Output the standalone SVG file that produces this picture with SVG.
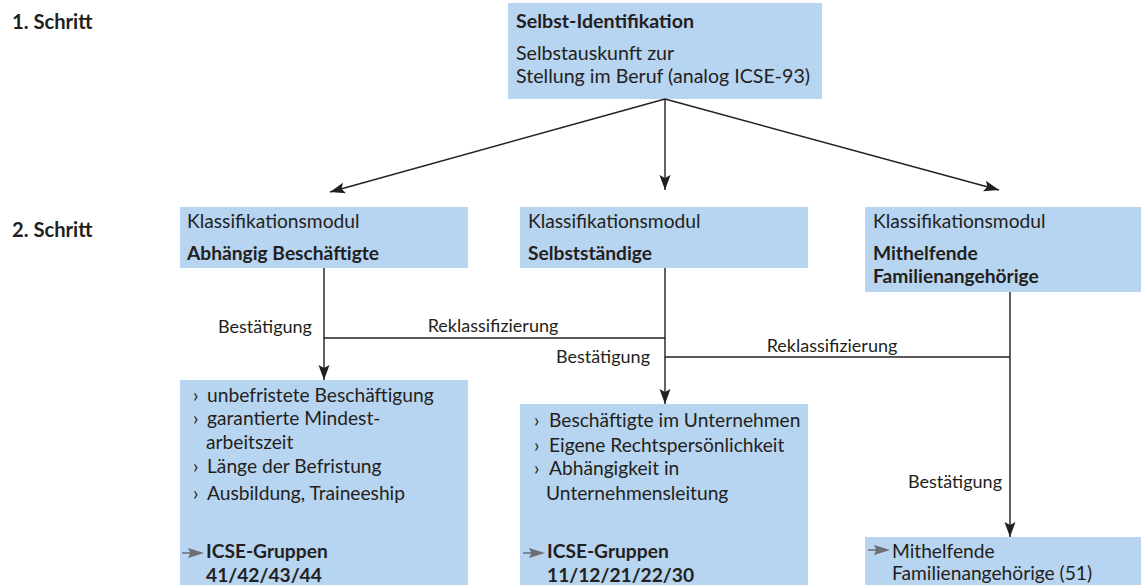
<svg xmlns="http://www.w3.org/2000/svg" width="1141" height="585" viewBox="0 0 1141 585">
<style>
text{font-family:Lato,"Liberation Sans",sans-serif;font-size:19.2px;fill:#231f20}
.b{font-weight:bold}
.t{font-size:19.6px}
.s{font-size:20.2px}
.c{font-size:18px}
.box{fill:#b7d4f0}
.ln{stroke:#231f20;stroke-width:1.4;fill:none}
.gm{fill:#6d6e71}
</style>
<defs>
<marker id="ah" markerUnits="userSpaceOnUse" markerWidth="16" markerHeight="12" refX="15" refY="6" orient="auto">
<path d="M0,0.5 L15,6 L0,11.5 L3,6 z" fill="#231f20"/>
</marker>
<path id="gm" d="M0,-0.8 L8,-0.8 L6,-5 L22,0 L6,5 L8,0.8 L0,0.8 z"/>
</defs>
<g id="labels">
<text x="12" y="29" class="b s">1. Schritt</text>
<text x="12" y="237" class="b s">2. Schritt</text>
</g>
<g id="n0">
<rect class="box" x="508" y="3" width="314" height="96"/>
<text x="516" y="28" class="b t">Selbst-Identifikation</text>
<text x="516" y="60" class="t">Selbstauskunft zur</text>
<text x="516" y="83" class="t">Stellung im Beruf (analog ICSE-93)</text>
</g>
<g id="n1">
<rect class="box" x="180" y="207" width="288" height="61"/>
<text x="187" y="228">Klassifikationsmodul</text>
<text x="187" y="260" class="b">Abhängig Beschäftigte</text>
</g>
<g id="n2">
<rect class="box" x="520" y="207" width="288" height="61"/>
<text x="528" y="228">Klassifikationsmodul</text>
<text x="528" y="260" class="b">Selbstständige</text>
</g>
<g id="n3">
<rect class="box" x="865" y="207" width="276" height="85"/>
<text x="873" y="228">Klassifikationsmodul</text>
<text x="873" y="260" class="b">Mithelfende</text>
<text x="873" y="283" class="b">Familienangehörige</text>
</g>
<g id="n4">
<rect class="box" x="180" y="380" width="288" height="205"/>
<text x="193" y="402">›</text><text x="207" y="402">unbefristete Beschäftigung</text>
<text x="193" y="425">›</text><text x="207" y="425">garantierte Mindest-</text>
<text x="206" y="449">arbeitszeit</text>
<text x="193" y="473">›</text><text x="207" y="473">Länge der Befristung</text>
<text x="193" y="500">›</text><text x="207" y="500">Ausbildung, Traineeship</text>
<use href="#gm" class="gm" x="182" y="553"/>
<text x="206" y="558" class="b">ICSE-Gruppen</text>
<text x="206" y="582" class="b">41/42/43/44</text>
</g>
<g id="n5">
<rect class="box" x="520" y="404" width="288" height="181"/>
<text x="534" y="427">›</text><text x="549" y="427">Beschäftigte im Unternehmen</text>
<text x="534" y="452">›</text><text x="549" y="452">Eigene Rechtspersönlichkeit</text>
<text x="534" y="475">›</text><text x="549" y="475">Abhängigkeit in</text>
<text x="546" y="500">Unternehmensleitung</text>
<use href="#gm" class="gm" x="523" y="553"/>
<text x="547" y="558" class="b">ICSE-Gruppen</text>
<text x="547" y="582" class="b">11/12/21/22/30</text>
</g>
<g id="n6">
<rect class="box" x="865" y="537" width="276" height="48"/>
<use href="#gm" class="gm" x="868" y="550"/>
<text x="892" y="558">Mithelfende</text>
<text x="892" y="580">Familienangehörige (51)</text>
</g>
<g id="connectors">
<line class="ln" x1="665" y1="99" x2="330" y2="192" marker-end="url(#ah)"/>
<line class="ln" x1="665" y1="99" x2="665" y2="190" marker-end="url(#ah)"/>
<line class="ln" x1="665" y1="99" x2="999" y2="190" marker-end="url(#ah)"/>
<line class="ln" x1="324" y1="268" x2="324" y2="380" marker-end="url(#ah)"/>
<line class="ln" x1="324" y1="338" x2="665" y2="338"/>
<line class="ln" x1="665" y1="268" x2="665" y2="404" marker-end="url(#ah)"/>
<line class="ln" x1="665" y1="357" x2="1010" y2="357"/>
<line class="ln" x1="1010" y1="292" x2="1010" y2="537" marker-end="url(#ah)"/>
<text x="218" y="333" class="c">Bestätigung</text>
<text x="493" y="332" text-anchor="middle" class="c">Reklassifizierung</text>
<text x="650" y="363" text-anchor="end" class="c">Bestätigung</text>
<text x="832" y="352" text-anchor="middle" class="c">Reklassifizierung</text>
<text x="1002" y="488" text-anchor="end" class="c">Bestätigung</text>
</g>
</svg>
